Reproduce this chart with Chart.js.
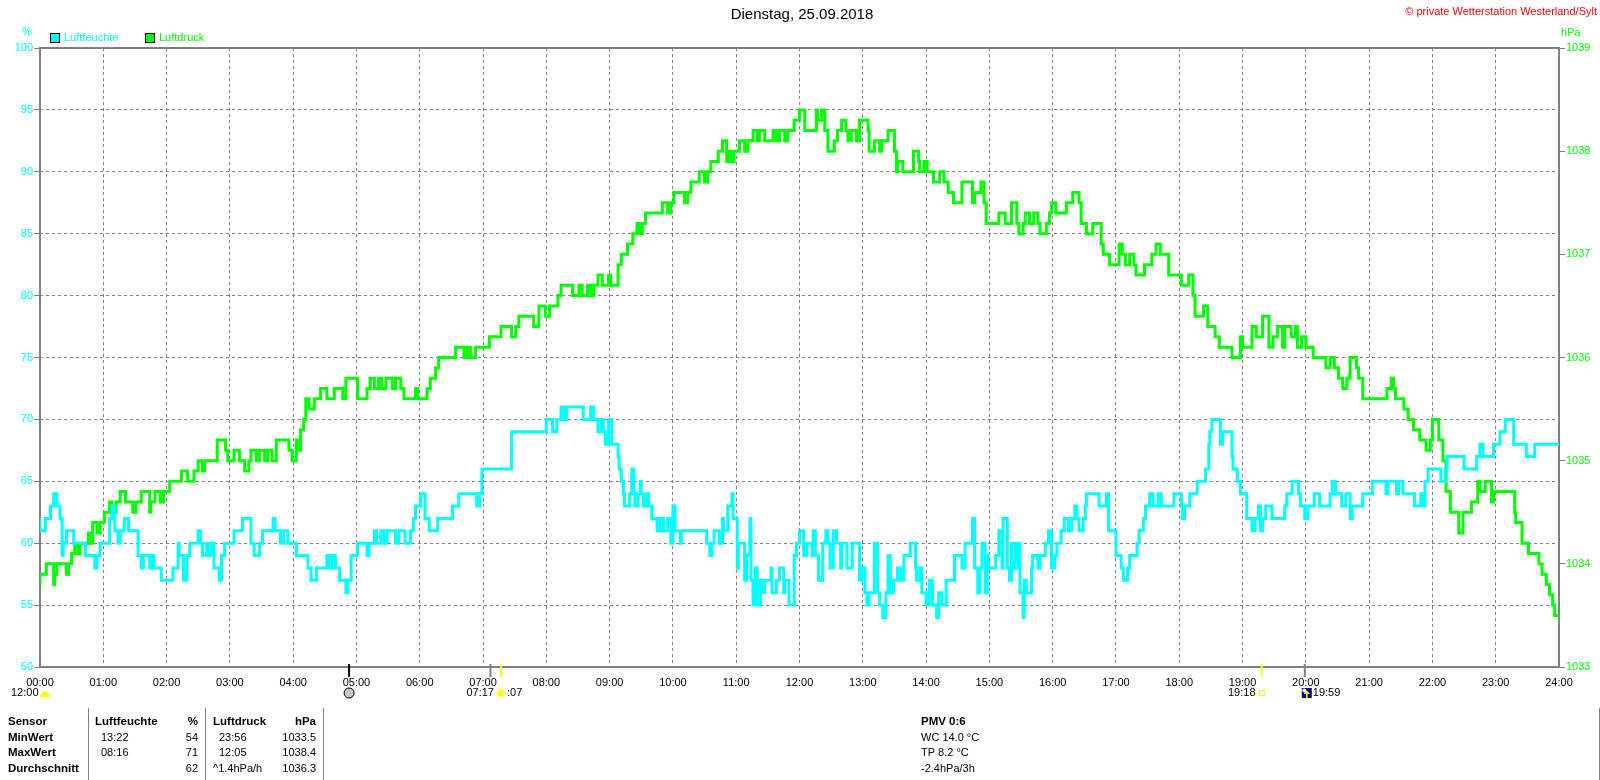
<!DOCTYPE html>
<html lang="de">
<head>
  <meta charset="UTF-8">
  <title>Dienstag, 25.09.2018</title>
  <script src="https://cdn.jsdelivr.net/npm/chart.js"></script>
  <style>
    body { margin: 0; background: #fff; }
    canvas { display: block; }
  </style>
</head>
<body>
  <canvas id="chart" width="1600" height="780"></canvas>

  <script>
    // Messwerte: [Minute des Tages, Wert]
    const humidity = [
      [0,62],[5,61],[10,62],[13,63],[16,64],[19,63],[21,62],[22,59],[25,60],[32,61],
      [43,60],[52,59],[54,58],[57,59],[66,60],[68,62],[71,63],[74,61],[76,60],[80,61],
      [84,62],[93,61],[96,59],[98,58],[104,59],[106,58],[108,59],[115,58],[126,57],[131,58],
      [132,60],[136,59],[139,57],[142,59],[150,60],[152,61],[154,60],[158,59],[159,60],[162,59],
      [165,60],[170,58],[172,57],[175,59],[184,60],[192,61],[200,62],[203,60],[208,59],[211,60],
      [221,61],[223,62],[228,61],[231,60],[235,61],[243,60],[254,59],[257,58],[262,57],[272,58],
      [274,59],[277,58],[280,59],[284,58],[290,57],[292,56],[295,57],[301,59],[310,60],[312,59],
      [317,60],[319,61],[323,60],[326,61],[329,60],[337,61],[340,60],[346,61],[351,60],[354,61],
      [356,62],[361,63],[365,64],[369,62],[377,61],[391,62],[397,63],[414,64],[417,63],[419,64],
      [447,66],[480,69],[486,70],[490,69],[494,70],[497,71],[499,70],[515,71],[522,70],[525,71],
      [529,70],[532,69],[534,70],[536,69],[539,68],[542,70],[548,68],[549,67],[551,66],[553,65],
      [554,64],[559,63],[561,64],[563,66],[564,64],[567,63],[569,64],[570,65],[572,64],[575,63],
      [577,64],[580,63],[585,62],[588,61],[591,62],[595,61],[598,62],[600,60],[602,63],[607,61],
      [608,60],[632,61],[635,60],[637,59],[639,60],[644,61],[647,60],[648,62],[652,61],[656,63],
      [657,64],[661,62],[662,58],[668,60],[670,57],[673,59],[674,62],[676,57],[678,55],[680,58],
      [683,55],[684,57],[687,56],[693,57],[694,58],[698,56],[701,57],[705,58],[706,56],[710,57],
      [715,55],[717,59],[720,60],[724,61],[727,59],[732,60],[733,59],[735,61],[738,59],[742,57],
      [745,60],[747,61],[749,60],[752,58],[755,61],[759,60],[760,58],[765,60],[770,58],[777,60],
      [779,57],[782,58],[784,56],[786,55],[791,56],[794,60],[796,56],[799,55],[802,54],[804,56],
      [806,59],[809,56],[813,57],[816,58],[819,57],[825,59],[830,60],[831,58],[834,57],[836,58],
      [840,56],[843,55],[846,57],[850,55],[852,54],[855,56],[859,55],[867,57],[874,59],[877,58],
      [884,60],[886,62],[889,58],[891,56],[893,58],[896,60],[898,56],[899,59],[906,58],[909,59],
      [912,61],[913,58],[917,62],[919,58],[921,57],[924,60],[927,58],[929,60],[932,56],[933,54],
      [935,57],[940,56],[941,58],[946,59],[948,58],[953,59],[956,60],[959,61],[962,58],[964,59],
      [968,60],[971,61],[975,62],[978,61],[981,62],[983,63],[985,62],[989,61],[991,62],[992,63],
      [1004,64],[1011,63],[1013,64],[1020,61],[1025,59],[1027,58],[1031,57],[1033,58],[1040,59],[1042,60],
      [1046,61],[1048,62],[1052,63],[1055,64],[1060,63],[1063,64],[1075,63],[1082,64],[1083,63],[1085,62],
      [1090,63],[1097,64],[1105,65],[1108,66],[1109,68],[1111,69],[1119,70],[1121,68],[1130,69],[1131,67],
      [1135,66],[1138,65],[1144,64],[1149,62],[1152,61],[1155,62],[1157,63],[1159,61],[1162,62],[1168,63],
      [1180,62],[1182,63],[1187,64],[1193,65],[1195,64],[1199,63],[1202,62],[1208,63],[1213,64],[1223,63],
      [1225,64],[1228,65],[1234,64],[1238,63],[1242,64],[1244,62],[1254,63],[1263,64],[1276,65],[1278,64],
      [1286,65],[1288,64],[1292,65],[1303,64],[1309,63],[1311,64],[1313,63],[1316,65],[1328,66],[1332,65],
      [1334,66],[1350,67],[1362,66],[1365,67],[1368,68],[1378,67],[1384,68],[1389,69],[1397,70],[1409,68],
      [1417,67],[1422,68],[1440,68]
    ];

    const pressure = [
      [0,1033.8],[6,1033.9],[13,1034.0],[14,1033.8],[16,1033.9],[25,1034.0],[27,1033.9],[30,1034.0],[33,1034.1],[36,1034.2],
      [38,1034.1],[46,1034.2],[47,1034.3],[50,1034.2],[54,1034.4],[57,1034.3],[61,1034.4],[66,1034.5],[68,1034.6],[72,1034.5],
      [76,1034.6],[81,1034.7],[88,1034.6],[91,1034.5],[96,1034.6],[104,1034.7],[105,1034.5],[109,1034.6],[114,1034.7],[117,1034.6],
      [123,1034.7],[134,1034.8],[140,1034.9],[146,1034.8],[150,1034.9],[154,1035.0],[156,1034.9],[168,1035.0],[176,1035.2],[178,1035.1],
      [184,1035.0],[189,1035.1],[194,1035.0],[198,1034.9],[200,1035.0],[205,1035.1],[208,1035.0],[213,1035.1],[216,1035.0],[220,1035.1],
      [224,1035.0],[236,1035.2],[239,1035.1],[243,1035.0],[244,1035.2],[247,1035.1],[250,1035.3],[252,1035.4],[255,1035.6],[260,1035.5],
      [266,1035.6],[272,1035.7],[279,1035.6],[287,1035.7],[290,1035.6],[301,1035.8],[310,1035.6],[313,1035.7],[317,1035.8],[321,1035.7],
      [324,1035.8],[328,1035.7],[334,1035.8],[337,1035.7],[342,1035.8],[345,1035.7],[356,1035.6],[358,1035.7],[367,1035.6],[370,1035.7],
      [375,1035.8],[378,1035.9],[394,1036.0],[402,1036.1],[405,1036.0],[408,1036.1],[413,1036.0],[426,1036.1],[437,1036.2],[447,1036.3],
      [451,1036.2],[454,1036.3],[468,1036.4],[473,1036.3],[479,1036.5],[483,1036.4],[491,1036.5],[494,1036.6],[505,1036.7],[511,1036.6],
      [514,1036.7],[519,1036.6],[522,1036.7],[525,1036.6],[529,1036.7],[533,1036.8],[539,1036.7],[541,1036.8],[548,1036.7],[551,1036.9],
      [557,1037.0],[562,1037.1],[566,1037.2],[568,1037.3],[571,1037.2],[574,1037.3],[590,1037.4],[595,1037.5],[598,1037.4],[601,1037.5],
      [611,1037.6],[614,1037.5],[617,1037.6],[625,1037.7],[630,1037.8],[633,1037.7],[636,1037.8],[643,1037.9],[647,1038.0],[651,1038.1],
      [653,1037.9],[655,1038.0],[658,1037.9],[663,1038.0],[668,1038.1],[671,1038.0],[676,1038.1],[680,1038.2],[682,1038.1],[687,1038.2],
      [695,1038.1],[698,1038.2],[701,1038.1],[706,1038.2],[709,1038.1],[715,1038.2],[720,1038.3],[725,1038.4],[736,1038.2],[737,1038.4],
      [741,1038.3],[744,1038.4],[747,1038.2],[753,1038.0],[756,1038.1],[760,1038.2],[764,1038.3],[766,1038.2],[769,1038.1],[774,1038.2],
      [777,1038.1],[785,1038.3],[786,1038.2],[791,1038.0],[796,1038.1],[798,1038.0],[804,1038.1],[810,1038.2],[812,1038.0],[813,1037.8],
      [818,1037.9],[828,1037.8],[833,1038.0],[834,1037.9],[838,1037.8],[841,1037.9],[847,1037.8],[853,1037.7],[857,1037.8],[861,1037.7],
      [866,1037.6],[874,1037.5],[884,1037.7],[886,1037.5],[892,1037.6],[895,1037.7],[897,1037.5],[909,1037.3],[915,1037.4],[921,1037.3],
      [926,1037.5],[928,1037.3],[932,1037.2],[934,1037.3],[938,1037.4],[942,1037.3],[946,1037.4],[948,1037.3],[954,1037.2],[957,1037.3],
      [959,1037.4],[963,1037.5],[973,1037.4],[979,1037.5],[985,1037.6],[987,1037.5],[992,1037.3],[998,1037.2],[1006,1037.3],[1008,1037.1],
      [1014,1037.0],[1023,1036.9],[1026,1037.1],[1029,1037.0],[1033,1036.9],[1037,1037.0],[1039,1036.9],[1047,1036.8],[1054,1036.9],[1058,1037.0],
      [1062,1037.1],[1070,1037.0],[1082,1036.8],[1089,1036.7],[1093,1036.8],[1095,1036.6],[1103,1036.4],[1107,1036.5],[1114,1036.3],[1118,1036.2],
      [1130,1036.1],[1138,1036.0],[1140,1036.2],[1149,1036.1],[1153,1036.3],[1159,1036.2],[1165,1036.4],[1169,1036.1],[1173,1036.2],[1178,1036.3],
      [1180,1036.1],[1186,1036.3],[1190,1036.2],[1192,1036.3],[1196,1036.1],[1200,1036.2],[1207,1036.1],[1219,1036.0],[1223,1035.9],[1227,1036.0],
      [1231,1035.9],[1235,1035.8],[1239,1035.7],[1242,1035.8],[1248,1036.0],[1250,1035.9],[1254,1035.8],[1277,1035.6],[1281,1035.7],[1283,1035.8],
      [1285,1035.7],[1293,1035.6],[1297,1035.5],[1302,1035.4],[1308,1035.3],[1314,1035.2],[1318,1035.1],[1320,1035.2],[1326,1035.4],[1330,1035.2],
      [1333,1035.0],[1337,1034.7],[1345,1034.5],[1349,1034.3],[1357,1034.5],[1363,1034.6],[1365,1034.8],[1370,1034.7],[1376,1034.8],[1378,1034.6],
      [1398,1034.7],[1399,1034.5],[1405,1034.4],[1411,1034.2],[1421,1034.1],[1424,1034.0],[1428,1033.9],[1431,1033.8],[1434,1033.7],[1436,1033.6],
      [1438,1033.5],[1440,1033.5]
    ];

    // Statistik-Tabelle unter dem Diagramm
    const statRows = ["Sensor", "MinWert", "MaxWert", "Durchschnitt"];
    const humTimes = ["", "13:22", "08:16", ""];
    const humStats = ["%", "54", "71", "62"];
    const presTimes = ["", "23:56", "12:05", "^1.4hPa/h"];
    const presStats = ["hPa", "1033.5", "1038.4", "1036.3"];
    const extraInfo = ["PMV 0:6", "WC 14.0 °C", "TP 8.2 °C", "-2.4hPa/3h"];

    // Sonne/Mond-Zeiten (Minute, Farbe der Marke)
    const dayMarks = [[293, "#000000"], [427, "#808080"], [437, "#ffff00"], [1158, "#ffff00"], [1199, "#808080"]];

    const FONT = '"Liberation Sans", Arial, sans-serif';
    const CYAN = "#00ffff";
    const GREEN = "#00ff00";
    const GRID = "#808080";

    Chart.defaults.font.family = FONT;
    Chart.defaults.font.size = 11;

    function hhmm(v) {
      const h = Math.floor(v / 60);
      return (h < 10 ? "0" : "") + h + ":00";
    }

    function txt(ctx, s, x, y, color, align, font) {
      ctx.fillStyle = color;
      ctx.textAlign = align || "left";
      ctx.textBaseline = "middle";
      ctx.font = font || "11px " + FONT;
      ctx.fillText(s, x, y);
    }

    // Rahmen um die Zeichenfläche
    const framePlugin = {
      id: "frame",
      beforeDatasetsDraw(chart) {
        const { ctx, chartArea: a } = chart;
        ctx.save();
        ctx.strokeStyle = GRID;
        ctx.lineWidth = 2;
        ctx.strokeRect(a.left, a.top, a.right - a.left, a.bottom - a.top);
        ctx.restore();
      }
    };

    // Titel, Legende, Einheiten, Tabelle
    const textPlugin = {
      id: "texts",
      afterDraw(chart) {
        const { ctx } = chart;
        const xs = chart.scales.x;
        const bold = "bold 11.5px " + FONT;
        ctx.save();

        txt(ctx, "Dienstag, 25.09.2018", 802, 15, "#000", "center", "15px " + FONT);
        txt(ctx, "© private Wetterstation Westerland/Sylt", 1597, 12, "#ff0000", "right");

        txt(ctx, "%", 27, 32, CYAN, "center");
        txt(ctx, "hPa", 1561, 33, GREEN, "left");

        ctx.strokeStyle = "#000";
        ctx.lineWidth = 1;
        ctx.fillStyle = CYAN;
        ctx.fillRect(50.5, 33.5, 9, 9);
        ctx.strokeRect(50.5, 33.5, 9, 9);
        txt(ctx, "Luftfeuchte", 64, 38, CYAN);
        ctx.fillStyle = GREEN;
        ctx.fillRect(145.5, 33.5, 9, 9);
        ctx.strokeRect(145.5, 33.5, 9, 9);
        txt(ctx, "Luftdruck", 159, 38, GREEN);

        // Marken für Sonnen-/Mondaufgang
        ctx.lineWidth = 2;
        dayMarks.forEach(([m, c]) => {
          const x = xs.getPixelForValue(m);
          ctx.strokeStyle = c;
          ctx.beginPath();
          ctx.moveTo(x, 664);
          ctx.lineTo(x, 677);
          ctx.stroke();
        });

        txt(ctx, "12:00", 11, 693, "#000");
        ctx.fillStyle = "#ffff00";
        ctx.beginPath();
        ctx.arc(45, 696, 4.5, Math.PI, 0);
        ctx.fill();
        ctx.fillRect(40, 695, 10, 2);

        const xm = xs.getPixelForValue(293);
        ctx.fillStyle = "#c8c8c8";
        ctx.strokeStyle = "#000";
        ctx.lineWidth = 1;
        ctx.beginPath();
        ctx.arc(xm, 693, 5, 0, Math.PI * 2);
        ctx.fill();
        ctx.stroke();

        const xs1 = xs.getPixelForValue(437);
        txt(ctx, "07:17", xs1 - 7, 693, "#000", "right");
        ctx.strokeStyle = "#ffff99";
        for (let k = 0; k < 8; k++) {
          const ang = k * Math.PI / 4;
          ctx.beginPath();
          ctx.moveTo(xs1 + Math.cos(ang) * 3, 693 + Math.sin(ang) * 3);
          ctx.lineTo(xs1 + Math.cos(ang) * 6, 693 + Math.sin(ang) * 6);
          ctx.stroke();
        }
        ctx.fillStyle = "#ffff00";
        ctx.beginPath();
        ctx.arc(xs1, 693, 3.5, 0, Math.PI * 2);
        ctx.fill();
        txt(ctx, ":07", xs1 + 6, 693, "#000");

        const xs2 = xs.getPixelForValue(1158);
        txt(ctx, "19:18", xs2 - 6, 693, "#000", "right");
        ctx.strokeStyle = "#ffff00";
        ctx.strokeRect(Math.round(xs2) - 2.5, 690.5, 5, 5);

        const xs3 = xs.getPixelForValue(1199);
        ctx.fillStyle = "#000080";
        ctx.fillRect(xs3 - 3, 688, 10, 10);
        ctx.fillStyle = "#ffffff";
        ctx.beginPath();
        ctx.arc(xs3 - 0.5, 690.5, 2, 0, Math.PI * 2);
        ctx.fill();
        ctx.strokeStyle = "#ffff00";
        ctx.lineWidth = 1.5;
        ctx.beginPath();
        ctx.moveTo(xs3 + 2, 698);
        ctx.lineTo(xs3 + 2, 691.5);
        ctx.moveTo(xs3 - 0.5, 694);
        ctx.lineTo(xs3 + 2, 691.5);
        ctx.lineTo(xs3 + 4.5, 694);
        ctx.stroke();
        txt(ctx, "19:59", xs3 + 8, 693, "#000");

        // Tabelle
        ctx.strokeStyle = GRID;
        ctx.lineWidth = 1;
        [88.5, 205.5, 323.5, 1599.5].forEach(x => {
          ctx.beginPath();
          ctx.moveTo(x, 708);
          ctx.lineTo(x, 780);
          ctx.stroke();
        });

        const rowY = [722, 738, 753, 769];
        statRows.forEach((s, i) => {
          const y = rowY[i];
          const f = i === 0 ? bold : "11px " + FONT;
          txt(ctx, s, 8, y, "#000", "left", bold);
          if (i === 0) {
            txt(ctx, "Luftfeuchte", 95, y, "#000", "left", bold);
            txt(ctx, "Luftdruck", 213, y, "#000", "left", bold);
          } else {
            txt(ctx, humTimes[i], 101, y, "#000", "left");
            txt(ctx, presTimes[i], i === 3 ? 213 : 219, y, "#000", "left");
          }
          txt(ctx, humStats[i], 198, y, "#000", "right", f);
          txt(ctx, presStats[i], 316, y, "#000", "right", f);
          txt(ctx, extraInfo[i], 921, y, "#000", "left", f);
        });

        ctx.restore();
      }
    };

    new Chart(document.getElementById("chart"), {
      type: "line",
      data: {
        datasets: [
          {
            label: "Luftfeuchte",
            data: humidity.map(([t, v]) => ({ x: t, y: v })),
            yAxisID: "y",
            borderColor: CYAN,
            borderWidth: 3,
            stepped: "after",
            pointRadius: 0,
            fill: false
          },
          {
            label: "Luftdruck",
            data: pressure.map(([t, v]) => ({ x: t, y: v })),
            yAxisID: "y1",
            borderColor: GREEN,
            borderWidth: 3,
            stepped: "after",
            pointRadius: 0,
            fill: false
          }
        ]
      },
      options: {
        responsive: false,
        animation: false,
        events: [],
        layout: { padding: { top: 48, left: 0, right: 0, bottom: 0 } },
        plugins: {
          legend: { display: false },
          title: { display: false },
          tooltip: { enabled: false }
        },
        scales: {
          x: {
            type: "linear",
            min: 0,
            max: 1440,
            ticks: {
              stepSize: 60,
              autoSkip: false,
              maxRotation: 0,
              color: "#000",
              padding: 9,
              callback: v => hhmm(v)
            },
            grid: { color: GRID, lineWidth: 1, drawTicks: false },
            border: { display: false, dash: [3, 3] },
            afterFit: s => { s.height = 113; }
          },
          y: {
            position: "left",
            min: 50,
            max: 100,
            ticks: { stepSize: 5, color: CYAN, padding: 1, callback: v => String(v) },
            grid: { color: GRID, lineWidth: 1, tickLength: 6, tickColor: GRID, tickWidth: 1, tickBorderDash: [] },
            border: { display: false, dash: [3, 3] },
            afterFit: s => { s.width = 40; }
          },
          y1: {
            position: "right",
            min: 1033,
            max: 1039,
            ticks: { stepSize: 1, color: GREEN, padding: 1, callback: v => String(v) },
            grid: { drawOnChartArea: false, tickLength: 6, tickColor: GRID, tickWidth: 1 },
            border: { display: false },
            afterFit: s => { s.width = 41; }
          }
        }
      },
      plugins: [framePlugin, textPlugin]
    });
  </script>
</body>
</html>
